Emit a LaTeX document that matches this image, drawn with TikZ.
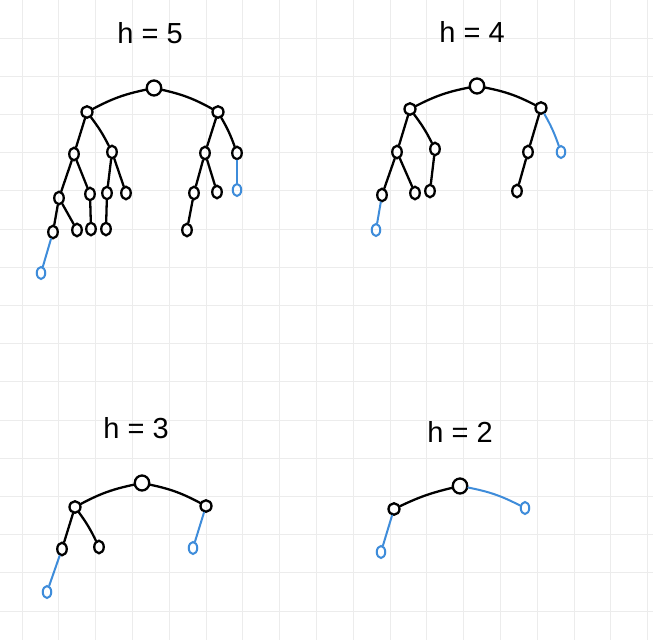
\documentclass[tikz,border=0pt]{standalone}
\usepackage{fontspec}
\setmainfont{Liberation Sans}
\usetikzlibrary{shapes.geometric}
\definecolor{myblue}{RGB}{62,140,218}
\definecolor{gridc}{RGB}{236,236,236}
\tikzset{
  nd/.style={ellipse, draw=black, line width=2.3pt, minimum width=9.5pt, minimum height=12.5pt, inner sep=0pt},
  rt/.style={nd, minimum width=14.5pt, minimum height=15pt},
  mid/.style={nd, minimum width=11pt, minimum height=11.5pt},
  bn/.style={nd, draw=myblue, line width=2pt, minimum width=8.5pt, minimum height=12pt},
  ed/.style={line width=2.3pt, line cap=round},
  be/.style={line width=2pt, draw=myblue, line cap=round},
  ttl/.style={font=\fontsize{29}{32}\selectfont, inner sep=0pt}
}
\begin{document}
\begin{tikzpicture}[x=1pt,y=-1pt]
\useasboundingbox (0,0) rectangle (653,640);
\fill[white] (0,0) rectangle (653,640);
\foreach \k in {0,...,17} {\draw[gridc, line width=0.8pt] ({22+36.8*\k},0) -- ({22+36.8*\k},640);}
\foreach \k in {0,...,15} {\draw[gridc, line width=0.8pt] (0,{38+38.2*\k}) -- (653,{38+38.2*\k});}

% ---------- h = 5 ----------
\node[ttl] (t5) at (150,33) {h = 5};
\node[rt] (a) at (154,88) {};
\node[mid] (aL) at (87,112) {};
\node[mid] (aR) at (218,112) {};
\node[nd] (aLL) at (74,154) {};
\node[nd] (aLR) at (112,152) {};
\node[nd] (aRL) at (205,153) {};
\node[nd] (aRR) at (237,153) {};
\node[nd] (aLLL) at (59,198) {};
\node[nd] (aLLR) at (90,194) {};
\node[nd] (aLRL) at (107,193) {};
\node[nd] (aLRR) at (126,193) {};
\node[nd] (aRLL) at (194,193) {};
\node[nd] (aRLR) at (217,192) {};
\node[bn] (aRRL) at (237,190) {};
\node[nd] (aLLLL) at (53,232) {};
\node[nd] (aLLLR) at (77,230) {};
\node[nd] (aLLRL) at (91,229) {};
\node[nd] (aLRLL) at (106,229) {};
\node[nd] (aRLLL) at (187,230) {};
\node[bn] (aLLLLL) at (41,273) {};
\draw[ed] (a) to[bend right=8] (aL);
\draw[ed] (a) to[bend left=8] (aR);
\draw[ed] (aL) -- (aLL);
\draw[ed] (aL) to[bend left=5] (aLR);
\draw[ed] (aR) -- (aRL);
\draw[ed] (aR) to[bend left=5] (aRR);
\draw[ed] (aLL) -- (aLLL);
\draw[ed] (aLL) -- (aLLR);
\draw[ed] (aLR) -- (aLRL);
\draw[ed] (aLR) -- (aLRR);
\draw[ed] (aRL) -- (aRLL);
\draw[ed] (aRL) -- (aRLR);
\draw[be] (aRR) -- (aRRL);
\draw[ed] (aLLL) -- (aLLLL);
\draw[ed] (aLLL) -- (aLLLR);
\draw[ed] (aLLR) -- (aLLRL);
\draw[ed] (aLRL) -- (aLRLL);
\draw[ed] (aRLL) -- (aRLLL);
\draw[be] (aLLLL) -- (aLLLLL);

% ---------- h = 4 ----------
\node[ttl] (t4) at (472,32) {h = 4};
\node[rt] (b) at (477,86) {};
\node[mid] (bL) at (410,109) {};
\node[mid] (bR) at (541,108) {};
\node[nd] (bLL) at (397,152) {};
\node[nd] (bLR) at (435,149) {};
\node[nd] (bRL) at (528,152) {};
\node[bn] (bRR) at (561,152) {};
\node[nd] (bLLL) at (382,195) {};
\node[nd] (bLLR) at (415,193) {};
\node[nd] (bLRL) at (430,191) {};
\node[nd] (bRLL) at (517,191) {};
\node[bn] (bLLLL) at (376,230) {};
\draw[ed] (b) to[bend right=8] (bL);
\draw[ed] (b) to[bend left=8] (bR);
\draw[ed] (bL) -- (bLL);
\draw[ed] (bL) to[bend left=5] (bLR);
\draw[ed] (bR) -- (bRL);
\draw[be] (bR) to[bend left=5] (bRR);
\draw[ed] (bLL) -- (bLLL);
\draw[ed] (bLL) -- (bLLR);
\draw[ed] (bLR) -- (bLRL);
\draw[ed] (bRL) -- (bRLL);
\draw[be] (bLLL) -- (bLLLL);

% ---------- h = 3 ----------
\node[ttl] (t3) at (136,428) {h = 3};
\node[rt] (c) at (142,483) {};
\node[mid] (cL) at (75,507) {};
\node[mid] (cR) at (206,506) {};
\node[nd] (cLL) at (62,549) {};
\node[nd] (cLR) at (99,547) {};
\node[bn] (cRL) at (193,548) {};
\node[bn] (cLLL) at (47,592) {};
\draw[ed] (c) to[bend right=8] (cL);
\draw[ed] (c) to[bend left=8] (cR);
\draw[ed] (cL) -- (cLL);
\draw[ed] (cL) to[bend left=5] (cLR);
\draw[be] (cR) -- (cRL);
\draw[be] (cLL) -- (cLLL);

% ---------- h = 2 ----------
\node[ttl] (t2) at (460,432) {h = 2};
\node[rt] (d) at (460,486) {};
\node[mid] (dL) at (394,509) {};
\node[bn] (dR) at (525,508) {};
\node[bn] (dLL) at (381,552) {};
\draw[ed] (d) to[bend right=6] (dL);
\draw[be] (d) to[bend left=8] (dR);
\draw[be] (dL) -- (dLL);
\end{tikzpicture}
\end{document}
